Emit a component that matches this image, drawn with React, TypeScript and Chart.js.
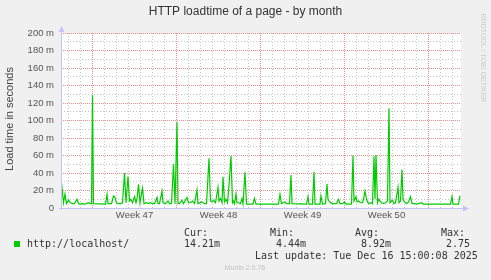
import React, { useEffect, useRef } from "react";
import { Chart, registerables } from "chart.js";

Chart.register(...registerables);

// ---- data (hours since start of graph window, load time in milliseconds) ----
const hours = [
  1, 5, 8, 11, 15, 19, 23, 27, 32, 35, 39, 43, 47, 51, 55, 59, 61, 63, 65, 89,
  92, 94, 101, 105, 108, 111, 115, 119, 123, 127, 130, 134, 137, 140, 143, 147, 150, 152, 155, 158,
  163, 166, 171, 175, 179, 183, 187, 192, 194, 197, 202, 204, 209, 214, 217, 221, 225, 228, 232, 234,
  237, 242, 245, 252, 255, 259, 263, 267, 272, 274, 282, 287, 291, 296, 299, 302, 305, 309, 314, 316,
  319, 322, 324, 327, 330, 333, 336, 340, 343, 345, 347, 350, 352, 355, 359, 362, 364, 368, 371, 384,
  387, 390, 435, 438, 441, 448, 451, 457, 460, 462, 491, 494, 496, 503, 506, 508, 518, 520, 523, 529,
  532, 534, 537, 543, 551, 555, 558, 563, 567, 570, 581, 584, 586, 590, 592, 595, 599, 603, 605, 608,
  611, 614, 617, 621, 623, 626, 628, 630, 633, 635, 638, 641, 645, 649, 653, 656, 658, 661, 663, 666,
  669, 674, 676, 679, 682, 684, 687, 691, 695, 699, 702, 707, 711, 722, 724, 779, 782, 784, 795, 798,
];
const loadMs = [
  29, 6, 16, 5, 9, 6, 5, 5, 10, 5, 4.5, 5, 4.5, 5, 6, 5, 5, 129, 5, 4.5,
  15.6, 5, 5, 13.7, 12, 6, 5, 5, 6, 40, 6, 36, 8, 10, 6, 13, 6, 10, 27, 6,
  22.5, 5, 6, 5, 6, 5, 5, 12, 5, 5, 19.4, 6, 5, 8, 5, 5, 50, 5, 98, 5,
  5, 9, 5, 12, 6, 6, 8, 5, 20.6, 5, 7, 5, 5, 56.8, 8, 7, 9, 6, 23.6, 8,
  11, 6, 35.8, 7, 10, 6, 26, 59.4, 6, 8, 5, 16, 6, 6, 5, 10.7, 5, 40.8, 4.5, 4.5,
  11, 4.5, 4.5, 15.6, 5, 7, 5, 5, 37.7, 5, 4.5, 13, 4.5, 4.5, 41, 4.5, 4.5, 13.7, 4.5, 5,
  27.4, 10, 7, 5, 5, 10, 5, 5, 7, 4.5, 4.5, 60, 8, 13, 7, 8, 6, 6, 10, 19.4,
  10, 6, 5, 6, 5, 59, 10, 60.6, 6, 10, 8, 6, 5, 6, 8, 114, 6, 8, 9, 5,
  6, 23.6, 6, 8, 44, 10, 7, 5, 7, 13, 5, 5, 4.5, 6, 4.5, 4.5, 13, 4.5, 4.5, 14.2,
];

const weekStarts = [63, 231, 399, 567, 735];
const weekLabels = ["Week 47", "Week 48", "Week 49", "Week 50"];
const weekMids = [147, 315, 483, 651];
const dayLines = [15, 39, 63, 87, 111, 135, 159, 183, 207, 231, 255, 279, 303, 327, 351, 375, 399, 423, 447, 471, 495, 519, 543, 567, 591, 615, 639, 663, 687, 711, 735, 759, 783];

const titleText = "HTTP loadtime of a page - by month";
const yAxisTitle = "Load time in seconds";
const seriesName = "http://localhost/";
const statLabels = ["Cur:", "Min:", "Avg:", "Max:"];
const statValues = ["14.21m", "4.44m", "8.92m", "2.75"];
const lastUpdate = "Last update: Tue Dec 16 15:00:08 2025";
const footer = "Munin 2.0.76";
const watermark = "RRDTOOL / TOBI OETIKER";

const SANS = '"Liberation Sans", Arial, sans-serif';
const MONO = '"DejaVu Sans Mono", monospace';
const AXIS_COLOR = "#c4c4f6";
const MAJOR = "rgba(240,130,130,0.9)";
const MINOR = "#c4c4c4";

const decorPlugin = {
  id: "decor",
  beforeDraw(chart: any) {
    const { ctx, chartArea } = chart;
    ctx.save();
    ctx.fillStyle = "#f0f0f0";
    ctx.fillRect(0, 0, chart.width, chart.height);
    ctx.fillStyle = "#ffffff";
    ctx.fillRect(chartArea.left, chartArea.top, chartArea.right - chartArea.left, chartArea.bottom - chartArea.top);
    ctx.restore();
  },
  afterDraw(chart: any) {
    const { ctx, chartArea } = chart;
    const L = chartArea.left, R = chartArea.right, T = chartArea.top, B = chartArea.bottom;
    ctx.save();
    // axes with arrows
    ctx.strokeStyle = AXIS_COLOR;
    ctx.fillStyle = AXIS_COLOR;
    ctx.lineWidth = 1;
    ctx.beginPath();
    ctx.moveTo(L + 0.5, B + 2);
    ctx.lineTo(L + 0.5, T - 3);
    ctx.moveTo(L - 2, B + 0.5);
    ctx.lineTo(R + 4, B + 0.5);
    ctx.stroke();
    ctx.beginPath();
    ctx.moveTo(L - 2.5, T - 1);
    ctx.lineTo(L + 3.5, T - 1);
    ctx.lineTo(L + 0.5, T - 7);
    ctx.closePath();
    ctx.fill();
    ctx.beginPath();
    ctx.moveTo(R + 2, B - 2.5);
    ctx.lineTo(R + 2, B + 3.5);
    ctx.lineTo(R + 8, B + 0.5);
    ctx.closePath();
    ctx.fill();

    // title
    ctx.fillStyle = "#333333";
    ctx.font = `12px ${SANS}`;
    ctx.textAlign = "center";
    ctx.textBaseline = "middle";
    ctx.fillText(titleText, 245.5, 12);

    // y axis title
    ctx.save();
    ctx.translate(10, 119);
    ctx.rotate(-Math.PI / 2);
    ctx.font = `11px ${SANS}`;
    ctx.fillStyle = "#444444";
    ctx.fillText(yAxisTitle, 0, 0);
    ctx.restore();

    // watermark
    ctx.save();
    ctx.translate(483, 58);
    ctx.rotate(Math.PI / 2);
    ctx.font = `7px ${SANS}`;
    ctx.fillStyle = "#cccccc";
    ctx.fillText(watermark, 0, 0);
    ctx.restore();

    // legend
    ctx.fillStyle = "#00cc00";
    ctx.fillRect(14, 241, 6, 6);
    ctx.font = `10px ${MONO}`;
    ctx.fillStyle = "#333333";
    ctx.textAlign = "left";
    ctx.fillText(seriesName, 27, 244);
    const labelX = [184, 270, 355, 441];
    statLabels.forEach((s, i) => ctx.fillText(s, labelX[i], 233));
    ctx.textAlign = "right";
    const valueRight = [220, 306, 391, 470];
    statValues.forEach((s, i) => ctx.fillText(s, valueRight[i], 244));
    ctx.textAlign = "left";
    ctx.fillText(lastUpdate, 255, 256);

    ctx.textAlign = "center";
    ctx.font = `7px ${SANS}`;
    ctx.fillStyle = "#c0c0c0";
    ctx.fillText(footer, 245, 268);
    ctx.restore();
  },
};

export default function App() {
  const ref = useRef<HTMLCanvasElement | null>(null);

  useEffect(() => {
    document.body.style.margin = "0";
    const canvas = ref.current;
    if (!canvas) return;
    const chart = new Chart(canvas, {
      type: "line",
      data: {
        datasets: [
          {
            label: seriesName,
            data: hours.map((h, i) => ({ x: h, y: loadMs[i] })),
            borderColor: "#00cc00",
            borderWidth: 1.2,
            pointRadius: 0,
            tension: 0,
            fill: false,
          },
        ],
      },
      options: {
        animation: false,
        responsive: false,
        devicePixelRatio: 1,
        layout: { padding: { left: 0, top: 33, right: 30, bottom: 0 } },
        plugins: { legend: { display: false }, title: { display: false }, tooltip: { enabled: false } },
        scales: {
          x: {
            type: "linear",
            min: 0,
            max: 800,
            afterBuildTicks: (scale: any) => {
              const vals = [...dayLines, ...weekMids].sort((a, b) => a - b);
              scale.ticks = vals.map((v) => ({ value: v }));
            },
            afterFit: (scale: any) => {
              scale.height = 72;
            },
            ticks: {
              autoSkip: false,
              maxRotation: 0,
              minRotation: 0,
              padding: 2,
              color: "#555555",
              font: { family: SANS, size: 9.5 },
              callback: (v: any) => {
                const idx = weekMids.indexOf(Number(v));
                return idx >= 0 ? weekLabels[idx] : "";
              },
            },
            grid: {
              drawTicks: false,
              lineWidth: 1,
              color: (c: any) => {
                const v = c.tick ? c.tick.value : -1;
                if (weekStarts.includes(v)) return MAJOR;
                if (dayLines.includes(v)) return MINOR;
                return "rgba(0,0,0,0)";
              },
            },
            border: {
              display: false,
              dash: (c: any) => (c.tick && weekStarts.includes(c.tick.value) ? [1, 1] : [1, 2]),
            },
          },
          y: {
            min: 0,
            max: 200,
            afterFit: (scale: any) => {
              scale.width = 61;
            },
            ticks: {
              stepSize: 10,
              autoSkip: false,
              padding: 7,
              color: "#555555",
              font: { family: SANS, size: 9.5 },
              callback: (v: any) => {
                const n = Number(v);
                if (n % 20 !== 0) return "";
                return n === 0 ? "0" : `${n} m`;
              },
            },
            grid: {
              drawTicks: false,
              lineWidth: 1,
              color: (c: any) => {
                const v = c.tick ? c.tick.value : 0;
                if (v === 0) return "rgba(0,0,0,0)";
                return v % 20 === 0 ? MAJOR : MINOR;
              },
            },
            border: {
              display: false,
              dash: (c: any) => (c.tick && c.tick.value % 20 === 0 ? [1, 1] : [1, 2]),
            },
          },
        },
      },
      plugins: [decorPlugin],
    });
    return () => chart.destroy();
  }, []);

  return <canvas ref={ref} width={491} height={280} style={{ display: "block" }} />;
}
